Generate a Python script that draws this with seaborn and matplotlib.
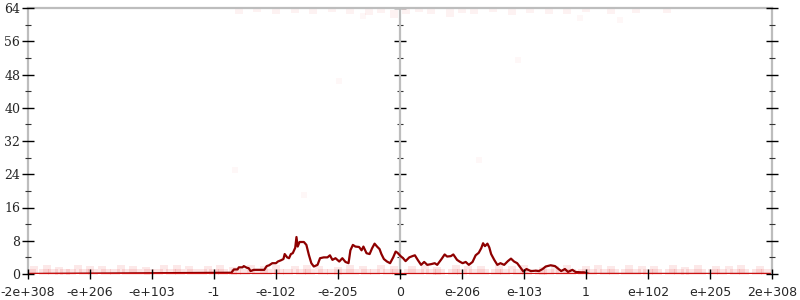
import matplotlib
matplotlib.use("Agg")
import matplotlib.pyplot as plt
from matplotlib.ticker import MultipleLocator
import seaborn as sns
import pandas as pd

# ---- data (x in tick-slot units: -6 .. 6) ----
tick_labels = ["-2e+308", "-e+206", "-e+103", "-1", "-e-102", "-e-205", "0",
               "e-206", "e-103", "1", "e+102", "e+205", "2e+308"]
tick_pos = [-6, -5, -4, -3, -2, -1, 0, 1, 2, 3, 4, 5, 6]
y_ticks = [0, 8, 16, 24, 32, 40, 48, 56, 64]
y_labels = ["0", "8", "16", "24", "32", "40", "48", "56", "64"]

line_x = [-6.0, -2.72, -2.68, -2.62, -2.60, -2.54, -2.52, -2.47, -2.44, -2.41, -2.36,
          -2.25, -2.19, -2.15, -2.11, -2.06, -2.00, -1.97, -1.92, -1.88, -1.86, -1.82,
          -1.79, -1.76, -1.73, -1.69, -1.67, -1.65, -1.62, -1.55, -1.51, -1.47, -1.43,
          -1.39, -1.33, -1.29, -1.23, -1.17, -1.13, -1.09, -1.04, -0.98, -0.93, -0.88,
          -0.83, -0.80, -0.76, -0.72, -0.66, -0.62, -0.59, -0.54, -0.49, -0.45, -0.41,
          -0.37, -0.33, -0.30, -0.26, -0.21, -0.16, -0.11, -0.07, -0.04, 0.01, 0.05,
          0.09, 0.15, 0.20, 0.24, 0.29, 0.34, 0.39, 0.44, 0.51, 0.56, 0.60, 0.67, 0.72,
          0.76, 0.82, 0.86, 0.92, 0.96, 1.01, 1.06, 1.11, 1.17, 1.22, 1.27, 1.31, 1.34,
          1.37, 1.41, 1.44, 1.47, 1.52, 1.57, 1.62, 1.68, 1.74, 1.79, 1.84, 1.89, 1.95,
          1.99, 2.04, 2.11, 2.19, 2.24, 2.30, 2.35, 2.43, 2.50, 2.55, 2.60, 2.66, 2.71,
          2.78, 2.83, 2.92, 2.97, 3.05, 6.0]
line_y = [0.0, 0.3, 1.1, 1.1, 1.6, 1.6, 1.9, 1.5, 1.4, 0.7, 1.0,
          1.0, 1.0, 1.9, 2.1, 2.6, 2.6, 3.0, 3.3, 3.6, 4.8, 4.0,
          3.8, 4.8, 5.0, 6.3, 8.9, 6.6, 7.7, 7.7, 7.0, 4.6, 2.6,
          1.8, 2.2, 3.8, 4.0, 4.0, 4.5, 3.4, 3.8, 3.0, 3.8, 2.9,
          2.6, 5.7, 7.0, 6.6, 6.5, 5.7, 6.6, 5.0, 4.8, 6.2, 7.3,
          6.6, 6.0, 4.8, 3.6, 3.0, 2.6, 4.0, 5.4, 5.1, 4.3, 3.8,
          3.1, 4.0, 4.3, 4.5, 3.3, 2.2, 2.9, 2.2, 2.4, 2.6, 2.2, 3.6, 4.7,
          4.2, 4.3, 4.7, 3.4, 3.0, 2.6, 2.9, 2.2, 2.9, 4.5, 5.1, 6.2, 7.4,
          6.7, 7.3, 6.4, 4.8, 3.4, 2.2, 2.6, 2.2, 3.1, 3.7, 3.0, 2.6, 1.4,
          0.6, 1.2, 0.7, 0.8, 0.7, 1.2, 1.8, 2.1, 1.9, 1.3, 0.7, 1.2, 0.5,
          1.0, 0.5, 0.4, 0.4, 0.0, 0.0]

# faint samples along the floor
floor_x = [-5.9, -5.7, -5.5, -5.2, -5.0, -4.8, -4.5, -4.3, -4.1, -3.8, -3.6, -3.4,
           -3.1, -2.9, -2.7, -2.4, -2.2, -2.0, -1.7, -1.5, -1.3, -1.0, -0.8, -0.6,
           -0.3, -0.1, 0.2, 0.4, 0.6, 0.9, 1.1, 1.3, 1.6, 1.8, 2.0, 2.3, 2.5, 2.7,
           3.0, 3.2, 3.4, 3.7, 3.9, 4.1, 4.4, 4.6, 4.8, 5.1, 5.3, 5.5, 5.8]
floor_y = [0.9, 1.1, 0.8, 1.2, 1.0, 0.9, 1.3, 1.0, 0.8, 1.1, 1.2, 0.9,
           1.0, 1.3, 0.8, 1.1, 1.0, 1.2, 0.9, 1.1, 1.0, 0.8, 1.2, 1.0,
           1.1, 0.9, 1.0, 1.2, 0.8, 1.1, 1.0, 0.9, 1.2, 1.0, 1.1, 0.8, 1.0, 1.2,
           0.9, 1.1, 1.0, 1.3, 0.9, 1.0, 1.1, 0.8, 1.2, 1.0, 0.9, 1.1, 1.0]
zero_x = [-5.95, -5.75, -5.6, -5.4, -5.3, -5.1, -4.95, -4.75, -4.6, -4.4, -4.25,
          -4.05, -3.9, -3.7, -3.55, -3.35, -3.2, -3.0, -2.85, -2.65, -2.5, -2.3,
          -2.15, -1.95, -1.8, -1.6, -1.45, -1.25, -1.1, -0.9, -0.75, -0.55, -0.4,
          -0.2, -0.05, 0.15, 0.3, 0.5, 0.65, 0.85, 1.0, 1.2, 1.35, 1.55, 1.7, 1.9,
          2.05, 2.25, 2.4, 2.6, 2.75, 2.95, 3.1, 3.3, 3.45, 3.65, 3.8, 4.0, 4.15,
          4.35, 4.5, 4.7, 4.85, 5.05, 5.2, 5.4, 5.55, 5.75, 5.9]
zero_y = [0.0] * len(zero_x)
ceil_x = [-2.6, -2.3, -2.0, -1.7, -1.4, -1.1, -0.8, -0.5, -0.3, -0.1, 0.1, 0.3,
          0.5, 0.8, 1.0, 1.2, 1.5, 1.8, 2.1, 2.4, 2.7, 3.0, 3.4, 3.8, 4.3]
ceil_y = [63.6, 63.9, 63.4, 63.8, 63.5, 63.9, 63.6, 63.2, 63.8, 62.6, 63.5, 63.9,
          63.4, 62.8, 63.7, 63.5, 63.9, 63.3, 63.8, 63.6, 63.4, 63.9, 63.5, 63.7, 63.8]
stray_x = [-2.66, -1.55, -0.98, -0.6, 1.27, 1.9, 2.9, 3.55]
stray_y = [25.0, 19.0, 46.5, 62.0, 27.5, 51.5, 61.5, 61.0]

# ---- figure ----
sns.set_style("white")
plt.rcParams["font.family"] = ["DejaVu Sans"]

fig = plt.figure(figsize=(8, 3), dpi=100)
ax = fig.add_axes([28 / 800, 26 / 300, 744 / 800, 266 / 300])
ax.set_axisbelow(False)

grey = "#bdbdbd"
ax.axvline(0, color=grey, lw=1.6, zorder=1)

red = "#e00000"
sns.scatterplot(x=floor_x, y=floor_y, ax=ax, marker="s", s=40, color=red,
                alpha=0.09, linewidth=0, zorder=1.5)
sns.scatterplot(x=zero_x, y=zero_y, ax=ax, marker="s", s=50, color=red,
                alpha=0.10, linewidth=0, zorder=1.5)
sns.scatterplot(x=ceil_x, y=ceil_y, ax=ax, marker="s", s=30, color=red,
                alpha=0.05, linewidth=0, zorder=1.5)
sns.scatterplot(x=stray_x, y=stray_y, ax=ax, marker="s", s=20, color=red,
                alpha=0.03, linewidth=0, zorder=1.5)

df = pd.DataFrame({"x": line_x, "y": line_y})
sns.lineplot(data=df, x="x", y="y", ax=ax, sort=False, estimator=None,
             color="#8e0000", lw=1.6, zorder=2.1)
# bright floor where the many zero samples overlap
ax.axhline(0, color="#cc1010", lw=1.6, zorder=2.2)

ax.set_xlim(-6, 6)
ax.set_ylim(0, 64)
ax.set_xlabel("")
ax.set_ylabel("")

for side in ["left", "top", "right"]:
    ax.spines[side].set_visible(True)
    ax.spines[side].set_color(grey)
    ax.spines[side].set_linewidth(1.6)
ax.spines["bottom"].set_visible(False)

ax.set_xticks(tick_pos)
ax.set_xticklabels(tick_labels, fontsize=9, family="DejaVu Sans")
ax.set_yticks(y_ticks)
ax.set_yticklabels(y_labels, fontsize=9, family="DejaVu Serif")
ax.yaxis.set_minor_locator(MultipleLocator(4))

ax.tick_params(axis="x", which="major", direction="inout", length=7, width=1,
               color="black", pad=5, bottom=True)
ax.tick_params(axis="y", which="major", direction="inout", length=9, width=1,
               color="black", pad=1, left=True, right=True, labelright=False)
ax.tick_params(axis="y", which="minor", direction="inout", length=5, width=0.8,
               color="#333333", left=True, right=True)

sec = ax.secondary_yaxis(0.5)
sec.spines["left"].set_visible(False)
sec.spines["right"].set_visible(False)
sec.set_yticks(y_ticks)
sec.set_yticklabels([])
sec.yaxis.set_minor_locator(MultipleLocator(4))
sec.tick_params(axis="y", which="major", direction="inout", length=9, width=1,
                color="black", labelleft=False, labelright=False)
sec.tick_params(axis="y", which="minor", direction="inout", length=5, width=0.8,
                color="#333333")

fig.savefig("out.png", dpi=100)
